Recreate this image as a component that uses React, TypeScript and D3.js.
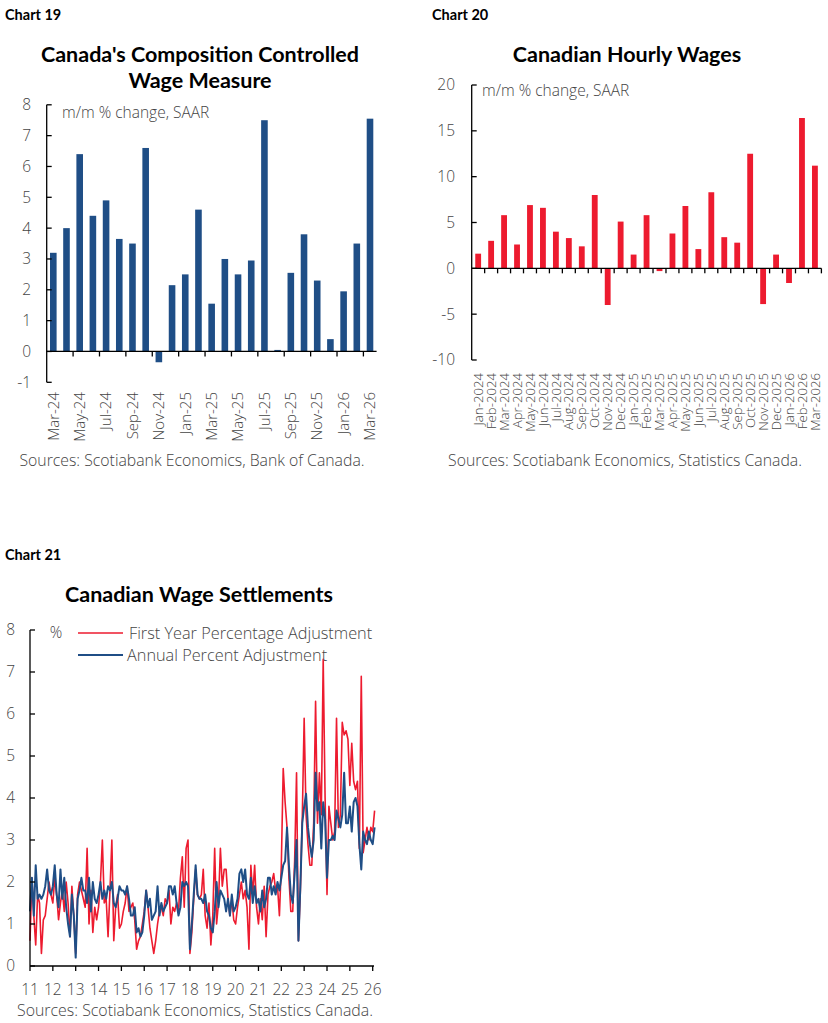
import * as d3 from 'd3'

// Chart 19 — composition controlled wage measure, m/m % SAAR
const months19 = [
  'Mar-24', 'Apr-24', 'May-24', 'Jun-24', 'Jul-24', 'Aug-24', 'Sep-24', 'Oct-24', 'Nov-24', 'Dec-24',
  'Jan-25', 'Feb-25', 'Mar-25', 'Apr-25', 'May-25', 'Jun-25', 'Jul-25', 'Aug-25', 'Sep-25', 'Oct-25',
  'Nov-25', 'Dec-25', 'Jan-26', 'Feb-26', 'Mar-26',
]
const ccwm = [
  3.2, 4.0, 6.4, 4.4, 4.9, 3.65, 3.5, 6.6, -0.35, 2.15,
  2.5, 4.6, 1.55, 3.0, 2.5, 2.95, 7.5, 0.05, 2.55, 3.8,
  2.3, 0.4, 1.95, 3.5, 7.55,
]
const ticks19 = [-1, 0, 1, 2, 3, 4, 5, 6, 7, 8]

// Chart 20 — hourly wages, m/m % SAAR
const months20 = [
  'Jan-2024', 'Feb-2024', 'Mar-2024', 'Apr-2024', 'May-2024', 'Jun-2024', 'Jul-2024', 'Aug-2024', 'Sep-2024',
  'Oct-2024', 'Nov-2024', 'Dec-2024', 'Jan-2025', 'Feb-2025', 'Mar-2025', 'Apr-2025', 'May-2025', 'Jun-2025',
  'Jul-2025', 'Aug-2025', 'Sep-2025', 'Oct-2025', 'Nov-2025', 'Dec-2025', 'Jan-2026', 'Feb-2026', 'Mar-2026',
]
const hourly = [
  1.6, 3.0, 5.8, 2.6, 6.9, 6.6, 4.0, 3.3, 2.4,
  8.0, -4.0, 5.1, 1.5, 5.8, -0.3, 3.8, 6.8, 2.1,
  8.3, 3.4, 2.8, 12.5, -3.9, 1.5, -1.6, 16.4, 11.2,
]
const ticks20 = [-10, -5, 0, 5, 10, 15, 20]

// Chart 21 — wage settlements, monthly from Jan 2011
const startYear21 = 2011
const years21 = d3.range(2011, 2027)
const ticks21 = [0, 1, 2, 3, 4, 5, 6, 7, 8]
const firstYear = [
  0.6, 2.1, 1.2, 0.5, 1.7, 1.5, 0.3, 1.1, 1.2, 1.6, 2.0, 1.7, // 2011
  1.5, 2.1, 1.7, 1.1, 1.5, 1.8, 1.3, 2.0, 1.5, 0.7, 1.9, 1.2, // 2012
  0.3, 1.7, 2.0, 1.8, 1.6, 1.4, 2.8, 1.0, 1.8, 0.8, 1.4, 1.1, // 2013
  1.4, 2.0, 3.0, 1.5, 1.6, 0.7, 1.8, 3.0, 0.6, 1.4, 1.7, 0.9, // 2014
  1.0, 1.3, 1.5, 1.9, 1.3, 1.4, 1.5, 1.1, 0.4, 0.6, 0.7, 1.0, // 2015
  1.3, 1.8, 1.4, 0.9, 0.6, 0.3, 0.6, 1.0, 1.3, 1.4, 1.2, 1.6, // 2016
  1.5, 1.8, 1.0, 1.4, 1.3, 1.5, 1.3, 2.1, 2.6, 1.4, 2.8, 3.0, // 2017
  0.3, 0.8, 1.6, 2.3, 1.7, 1.6, 1.7, 2.3, 1.2, 0.9, 1.5, 0.5, // 2018
  1.2, 2.8, 1.0, 1.5, 2.8, 1.9, 2.3, 2.3, 1.6, 1.2, 1.6, 1.1, // 2019
  1.0, 1.4, 1.7, 2.0, 1.6, 1.8, 1.4, 0.4, 2.4, 1.7, 2.4, 1.4, // 2020
  1.0, 1.6, 1.1, 1.9, 0.7, 1.7, 1.9, 2.0, 2.2, 1.8, 1.9, 1.2, // 2021
  2.4, 4.7, 3.9, 3.3, 2.1, 1.3, 1.3, 2.5, 4.6, 0.6, 1.8, 3.5, // 2022
  5.9, 3.6, 2.9, 2.4, 2.4, 3.4, 6.3, 3.4, 4.6, 3.6, 7.3, 4.0, // 2023
  1.7, 3.8, 3.4, 3.0, 3.2, 5.9, 3.3, 3.6, 5.8, 5.5, 5.6, 5.4, // 2024
  4.3, 5.3, 4.4, 4.2, 4.4, 2.8, 6.9, 2.7, 3.0, 3.3, 3.0, 3.3, // 2025
  3.2, 3.7, // 2026
]
const annual = [
  1.3, 2.1, 1.2, 2.4, 1.6, 1.7, 1.6, 1.7, 1.9, 2.3, 1.8, 1.7, // 2011
  1.9, 2.4, 1.7, 1.4, 2.3, 1.6, 2.1, 1.4, 1.0, 0.7, 1.7, 1.2, // 2012
  0.2, 1.6, 1.8, 2.1, 1.8, 1.8, 1.5, 2.1, 1.3, 2.0, 1.6, 1.5, // 2013
  1.7, 2.0, 1.6, 1.8, 1.6, 1.9, 1.8, 2.0, 1.5, 1.4, 1.6, 1.9, // 2014
  1.8, 1.8, 1.7, 1.9, 1.6, 1.2, 1.2, 1.4, 0.8, 0.9, 0.7, 0.8, // 2015
  1.2, 1.8, 1.4, 1.6, 1.1, 1.2, 1.3, 1.9, 1.2, 1.5, 1.3, 1.4, // 2016
  1.5, 1.9, 1.9, 1.7, 1.9, 1.5, 1.2, 1.4, 2.0, 1.9, 2.0, 1.9, // 2017
  0.4, 1.0, 1.7, 2.4, 1.7, 1.6, 1.6, 1.5, 1.7, 1.3, 1.2, 0.9, // 2018
  0.8, 1.3, 2.0, 1.4, 1.8, 1.7, 1.6, 1.3, 1.6, 1.2, 1.7, 1.3, // 2019
  1.4, 1.6, 2.2, 2.3, 2.0, 2.3, 1.7, 1.6, 2.1, 1.5, 1.9, 1.5, // 2020
  1.6, 1.3, 1.8, 1.4, 1.6, 2.1, 2.1, 1.7, 1.9, 1.7, 2.0, 1.8, // 2021
  2.1, 2.4, 2.5, 3.3, 2.4, 1.7, 1.5, 2.2, 3.0, 0.6, 1.9, 3.4, // 2022
  3.8, 4.1, 3.3, 2.9, 2.6, 3.0, 4.6, 3.7, 3.9, 2.8, 3.9, 3.5, // 2023
  2.1, 3.0, 3.0, 3.1, 3.0, 3.7, 3.5, 3.3, 3.6, 4.6, 3.4, 3.4, // 2024
  3.8, 3.2, 3.9, 4.0, 3.8, 2.9, 2.3, 3.2, 3.0, 2.9, 3.2, 3.0, // 2025
  2.9, 3.3, // 2026
]

const BLUE = '#1f4e86'
const RED = '#ed1b2f'
const LABEL = '"Open Sans", "Noto Sans", sans-serif'
const TITLE = 'Lato, "Noto Sans", sans-serif'
const TXT = '#444'
const FS = 15.5

function Chart19() {
  const x = d3.scaleBand<string>().domain(months19).range([46.7, 376.6]).paddingInner(0.5).paddingOuter(0.25)
  const y = d3.scaleLinear().domain([-1, 8]).range([382.3, 104.8])
  const step = x.step()
  const x0 = x.range()[0]
  return (
    <g>
      <text x={5} y={20} fontFamily={TITLE} fontWeight={700} fontSize={14.5}>Chart 19</text>
      <text x={200} y={62} textAnchor="middle" fontFamily={TITLE} fontWeight={700} fontSize={21.5}>Canada's Composition Controlled</text>
      <text x={200} y={88} textAnchor="middle" fontFamily={TITLE} fontWeight={700} fontSize={21.5}>Wage Measure</text>
      {ccwm.map((v, i) => (
        <rect key={i} x={x(months19[i])} width={x.bandwidth()} y={y(Math.max(0, v))}
          height={Math.abs(y(v) - y(0))} fill={BLUE} />
      ))}
      <line x1={x0} x2={x0} y1={y(8)} y2={y(-1)} stroke="#000" strokeWidth={1.3} />
      {ticks19.map(t => (
        <g key={t}>
          <line x1={x0} x2={x0 + 5} y1={y(t)} y2={y(t)} stroke="#000" strokeWidth={1.3} />
          <text x={31} y={y(t)} dy="0.35em" textAnchor="end" fontFamily={LABEL} fontWeight={300} fontSize={FS} fill={TXT}>{t}</text>
        </g>
      ))}
      <line x1={x0} x2={x.range()[1]} y1={y(0)} y2={y(0)} stroke="#000" strokeWidth={1.3} />
      {months19.map((m, i) => i > 0 && i % 2 === 0 ? (
        <line key={m} x1={x0 + i * step} x2={x0 + i * step} y1={y(0)} y2={y(0) + 5} stroke="#000" strokeWidth={1.3} />
      ) : null)}
      {months19.map((m, i) => i % 2 === 0 ? (
        <text key={m} transform={`translate(${x(m)! + x.bandwidth() / 2},392) rotate(-90)`} dy="0.35em"
          textAnchor="end" fontFamily={LABEL} fontWeight={300} fontSize={15} fill={TXT}>{m}</text>
      ) : null)}
      <text x={62} y={y(7.75)} dy="0.35em" fontFamily={LABEL} fontWeight={300} fontSize={FS} fill={TXT}>m/m % change, SAAR</text>
      <text x={192} y={466} textAnchor="middle" fontFamily={LABEL} fontWeight={300} fontSize={15.8} fill={TXT}>Sources: Scotiabank Economics, Bank of Canada.</text>
    </g>
  )
}

function Chart20() {
  const x = d3.scaleBand<string>().domain(months20).range([471.7, 821.4]).paddingInner(0.55).paddingOuter(0.275)
  const y = d3.scaleLinear().domain([-10, 20]).range([360, 85])
  const step = x.step()
  const x0 = x.range()[0]
  return (
    <g>
      <text x={432} y={20} fontFamily={TITLE} fontWeight={700} fontSize={14.5}>Chart 20</text>
      <text x={627} y={62} textAnchor="middle" fontFamily={TITLE} fontWeight={700} fontSize={21.5}>Canadian Hourly Wages</text>
      {hourly.map((v, i) => (
        <rect key={i} x={x(months20[i])} width={x.bandwidth()} y={y(Math.max(0, v))}
          height={Math.abs(y(v) - y(0))} fill={RED} />
      ))}
      <line x1={x0} x2={x0} y1={y(20)} y2={y(-10)} stroke="#000" strokeWidth={1.3} />
      {ticks20.map(t => (
        <g key={t}>
          <line x1={x0} x2={x0 + 5} y1={y(t)} y2={y(t)} stroke="#000" strokeWidth={1.3} />
          <text x={455} y={y(t)} dy="0.35em" textAnchor="end" fontFamily={LABEL} fontWeight={300} fontSize={FS} fill={TXT}>{t}</text>
        </g>
      ))}
      <line x1={x0} x2={x.range()[1]} y1={y(0)} y2={y(0)} stroke="#000" strokeWidth={1.3} />
      {months20.map((m, i) => (
        <line key={m} x1={x0 + (i + 1) * step} x2={x0 + (i + 1) * step} y1={y(0)} y2={y(0) + 5} stroke="#000" strokeWidth={1.3} />
      ))}
      {months20.map(m => (
        <text key={m} transform={`translate(${x(m)! + x.bandwidth() / 2},373) rotate(-90)`} dy="0.35em"
          textAnchor="end" fontFamily={LABEL} fontWeight={300} fontSize={13.2} fill={TXT}>{m}</text>
      ))}
      <text x={482} y={y(19.4)} dy="0.35em" fontFamily={LABEL} fontWeight={300} fontSize={FS} fill={TXT}>m/m % change, SAAR</text>
      <text x={625} y={466} textAnchor="middle" fontFamily={LABEL} fontWeight={300} fontSize={15.8} fill={TXT}>Sources: Scotiabank Economics, Statistics Canada.</text>
    </g>
  )
}

function Chart21() {
  const x = d3.scaleLinear().domain([2011, 2026]).range([30, 372.7])
  const y = d3.scaleLinear().domain([0, 8]).range([966, 630])
  const line = d3.line<number>()
    .x((_, i) => x(startYear21 + i / 12))
    .y(v => y(v))
  return (
    <g>
      <text x={5} y={560} fontFamily={TITLE} fontWeight={700} fontSize={14.5}>Chart 21</text>
      <text x={199} y={602} textAnchor="middle" fontFamily={TITLE} fontWeight={700} fontSize={21.5}>Canadian Wage Settlements</text>
      <path d={line(firstYear) ?? ''} fill="none" stroke={RED} strokeWidth={1.6} strokeLinejoin="round" />
      <path d={line(annual) ?? ''} fill="none" stroke={BLUE} strokeWidth={2} strokeLinejoin="round" />
      <line x1={30} x2={30} y1={y(8)} y2={y(0)} stroke="#000" strokeWidth={1.3} />
      {ticks21.map(t => (
        <g key={t}>
          <line x1={30} x2={35} y1={y(t)} y2={y(t)} stroke="#000" strokeWidth={1.3} />
          <text x={15} y={y(t)} dy="0.35em" textAnchor="end" fontFamily={LABEL} fontWeight={300} fontSize={FS} fill={TXT}>{t}</text>
        </g>
      ))}
      <line x1={30} x2={374} y1={y(0)} y2={y(0)} stroke="#000" strokeWidth={1.3} />
      {years21.map(yr => (
        <g key={yr}>
          <line x1={x(yr)} x2={x(yr)} y1={y(0)} y2={y(0) + 5} stroke="#000" strokeWidth={1.3} />
          <text x={x(yr)} y={990} dy="0.35em" textAnchor="middle" fontFamily={LABEL} fontWeight={300} fontSize={FS} fill={TXT}>{String(yr).slice(2)}</text>
        </g>
      ))}
      <text x={56} y={633} dy="0.35em" textAnchor="middle" fontFamily={LABEL} fontWeight={300} fontSize={FS} fill={TXT}>%</text>
      <line x1={78} x2={123} y1={633} y2={633} stroke={RED} strokeWidth={1.6} />
      <text x={129} y={633} dy="0.35em" fontFamily={LABEL} fontWeight={300} fontSize={16.3} fill={TXT}>First Year Percentage Adjustment</text>
      <line x1={78} x2={123} y1={655} y2={655} stroke={BLUE} strokeWidth={2} />
      <text x={127} y={655} dy="0.35em" fontFamily={LABEL} fontWeight={300} fontSize={16.3} fill={TXT}>Annual Percent Adjustment</text>
      <text x={195} y={1010} dy="0.35em" textAnchor="middle" fontFamily={LABEL} fontWeight={300} fontSize={15.9} fill={TXT}>Sources: Scotiabank Economics, Statistics Canada.</text>
    </g>
  )
}

export default function App() {
  return (
    <svg width={828} height={1023} viewBox="0 0 828 1023"
      style={{ position: 'absolute', left: 0, top: 0, background: '#fff' }}>
      <rect width={828} height={1023} fill="#fff" />
      <Chart19 />
      <Chart20 />
      <Chart21 />
    </svg>
  )
}
